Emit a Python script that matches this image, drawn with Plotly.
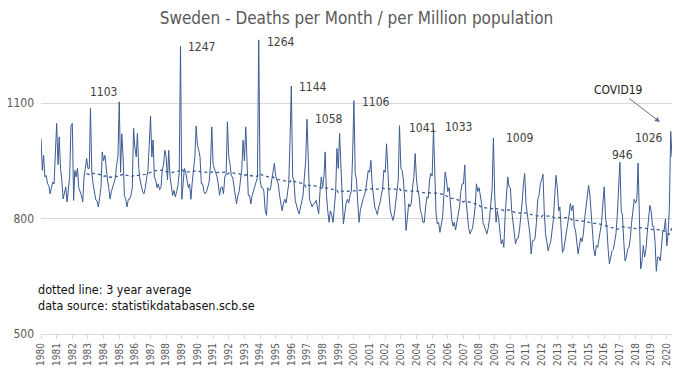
import pandas as pd
import plotly.graph_objects as go

# Monthly deaths per million population (Jan 1980 .. May 2020)
deaths_1980s = [
    1008, 925, 964, 908, 912, 890, 886, 864, 880, 895, 890, 960,
    1047, 940, 1012, 930, 900, 851, 870, 882, 843, 880, 910, 1040,
    1047, 847, 925, 908, 930, 880, 870, 860, 843, 908, 930, 956,
    930, 930, 1086, 920, 890, 870, 850, 845, 830, 855, 880, 973,
    950, 964, 925, 900, 880, 851, 870, 880, 895, 905, 940, 960,
    1103, 920, 1020, 960, 860, 850, 830, 850, 850, 860, 880, 1034,
    985, 960, 1021, 930, 900, 880, 870, 864, 880, 905, 925, 990,
    1066, 960, 1004, 908, 900, 880, 890, 875, 880, 925, 940, 977,
    960, 900, 977, 908, 880, 860, 873, 856, 870, 885, 920, 1247,
    850, 900, 930, 920, 900, 880, 890, 850, 895, 930, 960, 1040,
]
deaths_1990s = [
    990, 977, 960, 890, 890, 870, 864, 870, 880, 895, 940, 1038,
    940, 925, 920, 908, 890, 860, 880, 882, 864, 908, 915, 1051,
    960, 940, 910, 908, 880, 860, 838, 860, 870, 900, 930, 1003,
    950, 1038, 930, 860, 860, 838, 860, 873, 880, 900, 907, 1264,
    900, 880, 880, 870, 820, 808, 880, 873, 876, 900, 930, 943,
    910, 900, 890, 860, 840, 820, 840, 850, 840, 860, 890, 1000,
    1144, 908, 900, 847, 830, 821, 812, 830, 847, 860, 907, 950,
    1058, 917, 850, 840, 830, 838, 840, 847, 830, 812, 870, 908,
    880, 910, 973, 860, 820, 790, 820, 810, 790, 840, 869, 982,
    930, 1021, 925, 860, 786, 820, 838, 850, 840, 860, 870, 960,
]
deaths_2000s = [
    1106, 917, 900, 838, 790, 823, 838, 850, 860, 873, 900, 925,
    920, 951, 890, 860, 830, 821, 810, 830, 840, 860, 878, 926,
    920, 994, 910, 860, 820, 810, 795, 810, 840, 860, 900, 1041,
    930, 925, 900, 850, 769, 800, 838, 830, 840, 880, 909, 969,
    900, 873, 860, 821, 810, 790, 790, 830, 856, 853, 900, 917,
    910, 1033, 899, 814, 786, 790, 764, 780, 803, 860, 921, 900,
    870, 880, 830, 800, 780, 790, 770, 790, 800, 830, 870, 890,
    890, 939, 850, 810, 777, 760, 769, 775, 800, 830, 890, 870,
    880, 850, 838, 790, 777, 770, 760, 775, 800, 835, 877, 1009,
    856, 790, 820, 800, 760, 734, 745, 725, 810, 866, 908, 882,
]
deaths_2010s = [
    880, 820, 790, 760, 734, 747, 748, 770, 800, 840, 890, 917,
    838, 810, 800, 760, 708, 742, 742, 750, 790, 850, 860, 890,
    900, 915, 820, 760, 740, 716, 730, 740, 770, 797, 860, 912,
    880, 820, 830, 770, 712, 720, 740, 760, 780, 809, 839, 820,
    834, 778, 770, 740, 708, 730, 750, 740, 760, 800, 830, 860,
    886, 860, 820, 760, 720, 703, 730, 725, 750, 776, 790, 840,
    882, 800, 780, 720, 682, 700, 716, 720, 740, 760, 810, 870,
    946, 820, 809, 740, 690, 700, 720, 725, 750, 790, 820, 850,
    840, 850, 944, 760, 669, 690, 730, 700, 720, 763, 800, 834,
    820, 780, 780, 740, 663, 700, 700, 690, 729, 769, 770, 799,
]
deaths_2020 = [729, 760, 830, 1026, 960]

# Months that carry a value label
labelled_months = ["1985-01", "1988-12", "1993-12", "1996-01", "1997-01",
                   "2000-01", "2002-12", "2005-02", "2008-12", "2017-01", "2020-04"]
label_xanchor = ["right", "left", "left", "left", "left",
                 "left", "left", "left", "left", "center", "right"]
label_xshift = [0, 5, 6, 6, 6, 6, 7, 9, 11, 3, -6]
label_yshift = [10, -1, -2, -1, 0, -1, -2, 2, 0, 7, -7]

values = deaths_1980s + deaths_1990s + deaths_2000s + deaths_2010s + deaths_2020
months = pd.date_range("1980-01-01", periods=len(values), freq="MS")
series = pd.Series(values, index=months)
avg3y = series.rolling(36).mean()

FONT = "Liberation Sans Narrow, DejaVu Sans Condensed, Arial Narrow, sans-serif"
LINE = "#3B5B93"

fig = go.Figure()
fig.add_trace(go.Scatter(x=months, y=values, mode="lines",
                         line=dict(color=LINE, width=1), showlegend=False))
fig.add_trace(go.Scatter(x=months, y=avg3y, mode="lines",
                         line=dict(color=LINE, width=1.3, dash="dot"),
                         showlegend=False))

annotations = []
for m, xa, xs, ys in zip(labelled_months, label_xanchor, label_xshift, label_yshift):
    ts = pd.Timestamp(m + "-01")
    v = series[ts]
    annotations.append(dict(x=ts, y=v, xref="x", yref="y", text=str(v),
                            showarrow=False, xanchor=xa, yanchor="middle",
                            xshift=xs, yshift=ys,
                            font=dict(family=FONT, size=12, color="#404040")))

annotations.append(dict(x=0.981, y=0.6885, xref="paper", yref="paper",
                        text="COVID19", showarrow=True, ax=-42, ay=-32,
                        arrowhead=2, arrowsize=1, arrowwidth=1,
                        arrowcolor="#5a6f96",
                        font=dict(family=FONT, size=12, color="#1a1a1a")))
annotations.append(dict(x=-0.008, y=0.144, xref="paper", yref="paper",
                        text="dotted line: 3 year average", showarrow=False,
                        xanchor="left", yanchor="middle",
                        font=dict(family=FONT, size=12.5, color="#111111")))
annotations.append(dict(x=-0.008, y=0.094, xref="paper", yref="paper",
                        text="data source: statistikdatabasen.scb.se",
                        showarrow=False, xanchor="left", yanchor="middle",
                        font=dict(family=FONT, size=12.5, color="#111111")))

# the page body has an 8px margin, so the figure is sized to fit the window
fig.update_layout(
    width=676, height=367,
    margin=dict(l=33, r=12, t=18, b=41),
    paper_bgcolor="white", plot_bgcolor="white",
    title=dict(text="Sweden - Deaths per Month / per Million population",
               x=0.5, xref="paper", y=0.988, yref="container",
               xanchor="center", yanchor="top",
               font=dict(family=FONT, size=17, color="#595959")),
    annotations=annotations,
    showlegend=False,
)
fig.update_xaxes(
    type="date", range=["1980-01-01", "2020-05-01"],
    dtick="M12", tick0="1980-01-01", tickformat="%Y", tickangle=-90,
    showgrid=False, showline=True, linecolor="#D9D9D9", linewidth=1,
    ticks="outside", ticklen=4, tickcolor="#D9D9D9",
    tickfont=dict(family=FONT, size=10, color="#595959"),
    automargin=False, zeroline=False,
)
fig.update_yaxes(
    range=[500, 1300], tickvals=[500, 800, 1100],
    showgrid=True, gridcolor="#D9D9D9", gridwidth=1,
    showline=False, zeroline=False, ticks="",
    tickfont=dict(family=FONT, size=12, color="#595959"),
    automargin=False, ticklabelstandoff=6,
)

fig.write_html("out.html")
